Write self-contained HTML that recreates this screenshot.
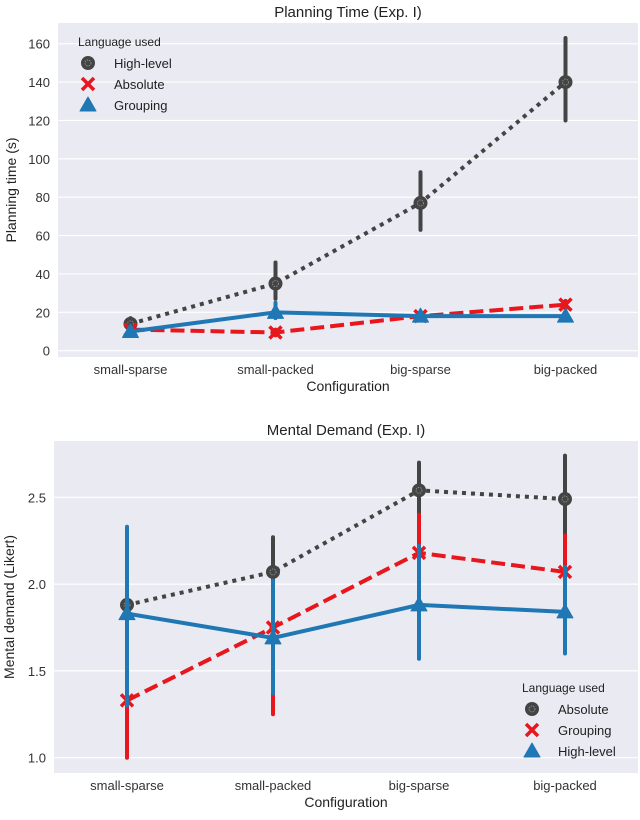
<!DOCTYPE html>
<html><head><meta charset="utf-8"><style>
body{margin:0;background:#fff;}
svg{display:block;font-family:"Liberation Sans",sans-serif;}
</style></head><body>
<svg id="s" width="640" height="820"></svg>
<script>
const categories=["small-sparse","small-packed","big-sparse","big-packed"];
// Top chart
const topTicks=[0,20,40,60,80,100,120,140,160];
const topHL=[14,35,77,140], topHLlo=[12,27,63,120], topHLhi=[17,46,93,163];
const topAbs=[11,9.5,18,24], topAbsLo=[10,8,17,22], topAbsHi=[12,11,19,26];
const topGrp=[10,20,18,18], topGrpLo=[9,17,17,17], topGrpHi=[11,25,19,19];
// Bottom chart
const botTicks=[1.0,1.5,2.0,2.5];
const botAbs=[1.88,2.07,2.54,2.49], botAbsLo=[1.3,1.9,2.38,2.25], botAbsHi=[2.05,2.27,2.7,2.74];
const botGrp=[1.33,1.75,2.18,2.07], botGrpLo=[1.0,1.25,1.95,1.85], botGrpHi=[1.7,2.0,2.4,2.28];
const botHL=[1.83,1.69,1.88,1.84], botHLlo=[1.3,1.37,1.57,1.6], botHLhi=[2.33,2.02,2.22,2.1];

const NS="http://www.w3.org/2000/svg", svg=document.getElementById('s');
function el(t,a,p){const e=document.createElementNS(NS,t);for(const k in a)e.setAttribute(k,a[k]);(p||svg).appendChild(e);return e;}
const GREY="#444444",RED="#e8161d",BLUE="#1f77b4";

function chart(o){
  const g=el('g',{});
  
  
  const bg=el('rect',{x:o.x0,y:o.y0,width:o.x1-o.x0,height:o.y1-o.y0,fill:"#eaeaf2"},g);
  
  const band=(o.x1-o.x0)/categories.length;
  const X=i=>o.x0+band*(i+0.5);
  const Y=v=>o.yA+(v-o.vA)*(o.yB-o.yA)/(o.vB-o.vA);
  o.ticks.forEach(t=>{
    const l=el('line',{x1:o.x0,x2:o.x1,y1:Y(t),y2:Y(t),stroke:"#fff","stroke-width":1.2},g);
    
    const tx=el('text',{x:o.x0-8,y:Y(t)+5,"text-anchor":"end","font-size":13,fill:"#333"},g);
    tx.textContent=o.fmt(t);
    
  });
  categories.forEach((c,i)=>{
    const tx=el('text',{x:X(i),y:o.y1+17,"text-anchor":"middle","font-size":13,fill:"#333"},g);
    tx.textContent=c;
    
  });
  const t=el('text',{x:(o.x0+o.x1)/2,y:o.y0-6,"text-anchor":"middle","font-size":15,fill:"#222"},g);
  t.textContent=o.title;
  const xl=el('text',{x:(o.x0+o.x1)/2,y:o.y1+34,"text-anchor":"middle","font-size":14,fill:"#222"},g);
  xl.textContent="Configuration";
  const yl=el('text',{x:0,y:0,"text-anchor":"middle","font-size":14,fill:"#222",transform:`translate(${o.ylx},${(o.y0+o.y1)/2}) rotate(-90)`},g);
  yl.textContent=o.ylabel;
  o.series.forEach(s=>{
    s.lo.forEach((lo,i)=>{
      const e=el('line',{x1:X(i),x2:X(i),y1:Y(lo),y2:Y(s.hi[i]),stroke:s.color,"stroke-width":4,"stroke-linecap":"round"},g);
      
    });
    const pts=s.v.map((v,i)=>X(i)+","+Y(v)).join(" ");
    const pl=el('polyline',{points:pts,fill:"none",stroke:s.color,"stroke-width":4,"stroke-dasharray":s.dash},g);
    
    s.v.forEach((v,i)=>{const m=marker(g,s.m,X(i),Y(v),s.color);});
  });
  const lg=el('g',{},g);
  const lt=el('text',{x:o.lx,y:o.ly,"font-size":12,fill:"#222"},lg);lt.textContent="Language used";
  o.series.forEach((s,k)=>{
    const yy=o.ly+21*(k+1);
    marker(lg,s.m,o.lx+10,yy-4,s.color);
    const tx=el('text',{x:o.lx+36,y:yy+1,"font-size":13,fill:"#222"},lg);tx.textContent=s.label;
    
  });
}
function marker(g,m,x,y,c){
  if(m==='o'){const gg=el('g',{},g);el('circle',{cx:x,cy:y,r:7,fill:c},gg);el('circle',{cx:x,cy:y,r:3,fill:"none",stroke:"#888","stroke-width":1,"stroke-dasharray":"1.5,1"},gg);return gg;}
  if(m==='x')return el('path',{d:`M${x-6},${y-6}L${x+6},${y+6}M${x+6},${y-6}L${x-6},${y+6}`,stroke:c,"stroke-width":3.5},g);
  return el('path',{d:`M${x},${y-8}L${x+8},${y+6}L${x-8},${y+6}Z`,fill:c,stroke:c,"stroke-width":1,"stroke-linejoin":"round"},g);
}
chart({name:"planning-time-chart",title:"Planning Time (Exp. I)",ylabel:"Planning time (s)",x0:58,x1:638,y0:23,y1:357,yA:350.7,vA:0,yB:43.7,vB:160,ticks:topTicks,fmt:t=>String(t),ylx:16,lx:78,ly:46,
  series:[{label:"High-level",v:topHL,lo:topHLlo,hi:topHLhi,color:GREY,m:'o',dash:"4,5"},
          {label:"Absolute",v:topAbs,lo:topAbsLo,hi:topAbsHi,color:RED,m:'x',dash:"14,6"},
          {label:"Grouping",v:topGrp,lo:topGrpLo,hi:topGrpHi,color:BLUE,m:'^',dash:""}]});
chart({name:"mental-demand-chart",title:"Mental Demand (Exp. I)",ylabel:"Mental demand (Likert)",x0:54,x1:638,y0:441,y1:773,yA:757.7,vA:1.0,yB:497.3,vB:2.5,ticks:botTicks,fmt:t=>t.toFixed(1),ylx:14,lx:522,ly:692,
  series:[{label:"Absolute",v:botAbs,lo:botAbsLo,hi:botAbsHi,color:GREY,m:'o',dash:"4,5"},
          {label:"Grouping",v:botGrp,lo:botGrpLo,hi:botGrpHi,color:RED,m:'x',dash:"14,6"},
          {label:"High-level",v:botHL,lo:botHLlo,hi:botHLhi,color:BLUE,m:'^',dash:""}]});
</script>
</body></html>
